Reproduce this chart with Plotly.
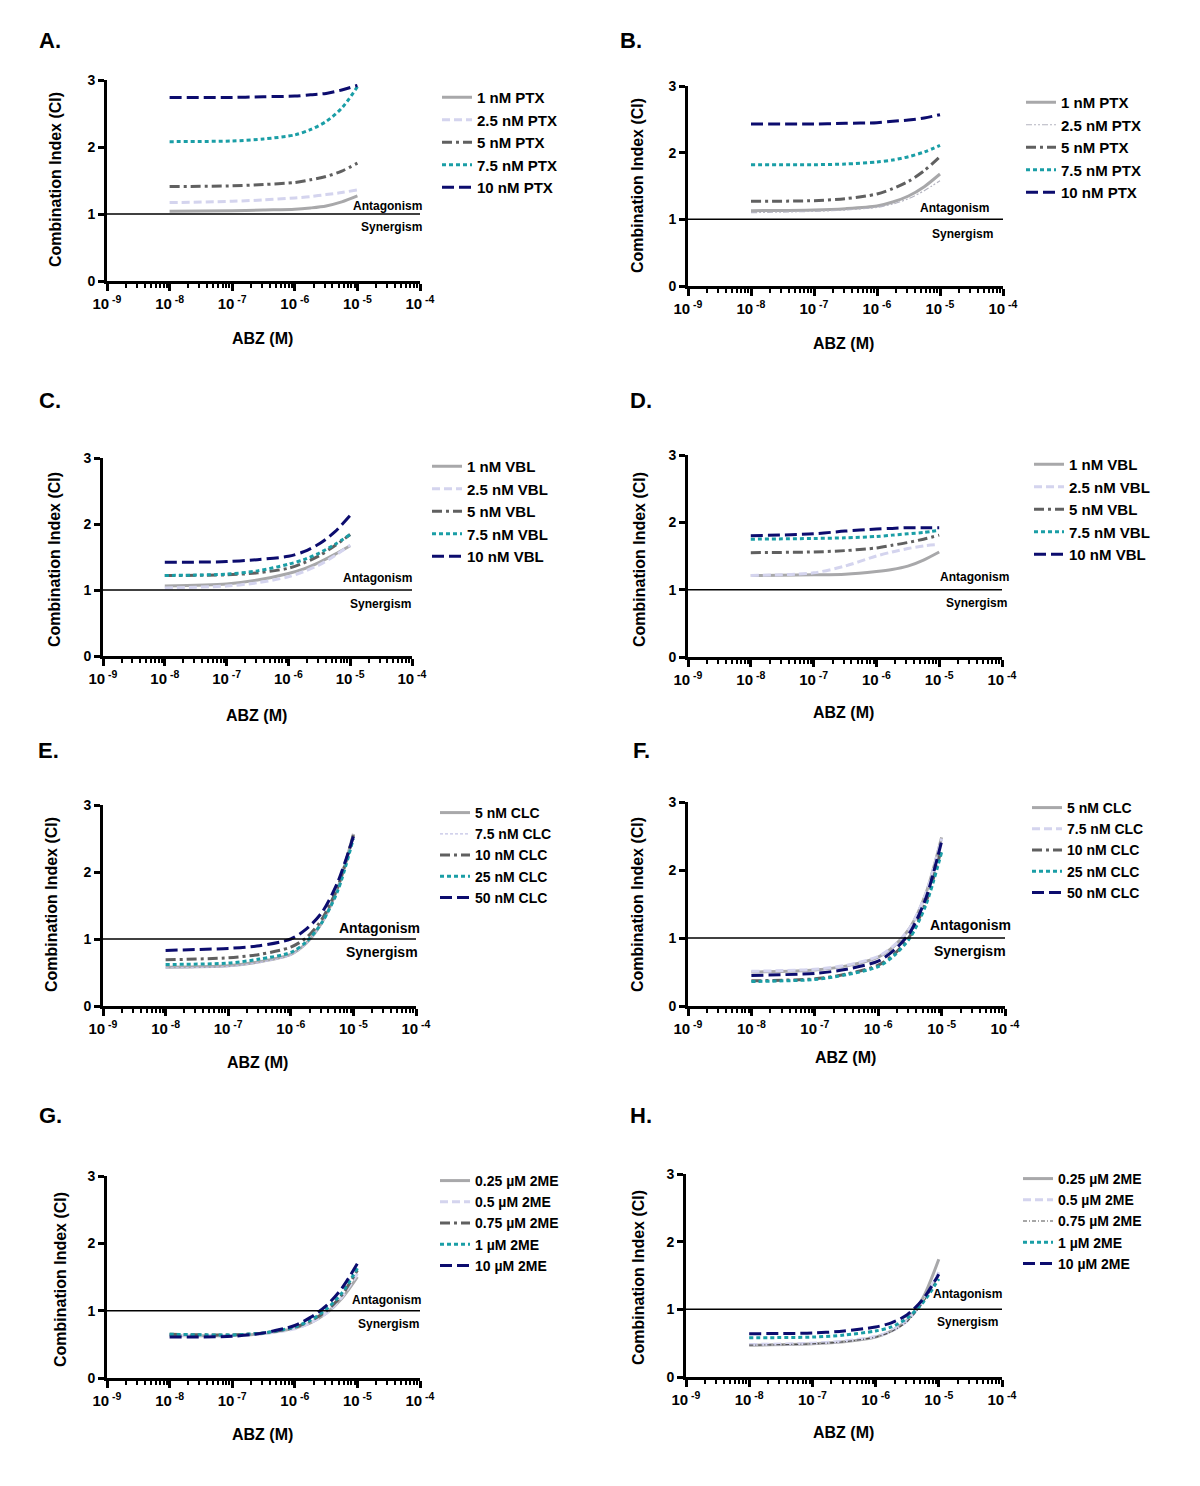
import plotly.graph_objects as go

# ---------------- data ----------------
log_abz = [-8, -7, -6.5, -6, -5.75, -5.5, -5.25, -5]
abz_M = [10 ** v for v in log_abz]

labels_A = ["1 nM PTX", "2.5 nM PTX", "5 nM PTX", "7.5 nM PTX", "10 nM PTX"]
ci_A = [
    [1.04, 1.05, 1.06, 1.07, 1.09, 1.12, 1.18, 1.27],
    [1.17, 1.19, 1.21, 1.24, 1.26, 1.29, 1.32, 1.36],
    [1.41, 1.42, 1.44, 1.47, 1.51, 1.56, 1.64, 1.76],
    [2.08, 2.09, 2.12, 2.18, 2.26, 2.38, 2.58, 2.90],
    [2.74, 2.74, 2.75, 2.76, 2.78, 2.80, 2.85, 2.92],
]
labels_B = labels_A
ci_B = [
    [1.13, 1.14, 1.16, 1.20, 1.26, 1.35, 1.49, 1.68],
    [1.10, 1.12, 1.14, 1.18, 1.23, 1.31, 1.43, 1.58],
    [1.27, 1.28, 1.31, 1.38, 1.46, 1.57, 1.73, 1.94],
    [1.82, 1.82, 1.83, 1.86, 1.89, 1.94, 2.01, 2.11],
    [2.43, 2.43, 2.44, 2.45, 2.47, 2.49, 2.52, 2.57],
]
labels_C = ["1 nM VBL", "2.5 nM VBL", "5 nM VBL", "7.5 nM VBL", "10 nM VBL"]
ci_C = [
    [1.06, 1.09, 1.15, 1.25, 1.32, 1.42, 1.54, 1.67],
    [1.03, 1.06, 1.11, 1.20, 1.28, 1.38, 1.52, 1.68],
    [1.22, 1.23, 1.26, 1.33, 1.41, 1.52, 1.67, 1.84],
    [1.22, 1.24, 1.29, 1.39, 1.46, 1.56, 1.69, 1.84],
    [1.42, 1.43, 1.46, 1.51, 1.58, 1.70, 1.88, 2.13],
]
labels_D = labels_C
ci_D = [
    [1.21, 1.22, 1.23, 1.27, 1.30, 1.35, 1.44, 1.56],
    [1.21, 1.25, 1.35, 1.50, 1.56, 1.61, 1.65, 1.67],
    [1.55, 1.56, 1.58, 1.62, 1.66, 1.70, 1.75, 1.81],
    [1.75, 1.76, 1.77, 1.79, 1.81, 1.83, 1.85, 1.88],
    [1.80, 1.83, 1.87, 1.90, 1.91, 1.92, 1.92, 1.92],
]
labels_E = ["5 nM CLC", "7.5 nM CLC", "10 nM CLC", "25 nM CLC", "50 nM CLC"]
ci_E = [
    [0.58, 0.60, 0.66, 0.77, 0.94, 1.25, 1.76, 2.57],
    [0.57, 0.59, 0.65, 0.76, 0.93, 1.24, 1.75, 2.56],
    [0.69, 0.72, 0.77, 0.88, 1.02, 1.30, 1.78, 2.55],
    [0.62, 0.64, 0.70, 0.80, 0.96, 1.25, 1.72, 2.50],
    [0.83, 0.86, 0.90, 1.00, 1.15, 1.40, 1.85, 2.53],
]
labels_F = labels_E
ci_F = [
    [0.50, 0.53, 0.59, 0.72, 0.88, 1.15, 1.65, 2.48],
    [0.51, 0.54, 0.60, 0.73, 0.89, 1.15, 1.65, 2.46],
    [0.37, 0.40, 0.47, 0.60, 0.76, 1.03, 1.52, 2.32],
    [0.36, 0.39, 0.46, 0.58, 0.74, 1.00, 1.48, 2.26],
    [0.45, 0.48, 0.54, 0.66, 0.82, 1.08, 1.58, 2.42],
]
labels_G = ["0.25 µM 2ME", "0.5 µM 2ME", "0.75 µM 2ME", "1 µM 2ME", "10 µM 2ME"]
ci_G = [
    [0.63, 0.63, 0.66, 0.74, 0.82, 0.96, 1.18, 1.50],
    [0.64, 0.63, 0.66, 0.73, 0.82, 0.96, 1.20, 1.55],
    [0.65, 0.64, 0.67, 0.75, 0.85, 0.99, 1.23, 1.60],
    [0.65, 0.64, 0.67, 0.76, 0.86, 1.02, 1.26, 1.63],
    [0.61, 0.62, 0.67, 0.78, 0.90, 1.07, 1.33, 1.70],
]
labels_H = labels_G
ci_H = [
    [0.47, 0.49, 0.52, 0.59, 0.68, 0.84, 1.17, 1.74],
    [0.48, 0.50, 0.53, 0.60, 0.68, 0.83, 1.12, 1.55],
    [0.47, 0.49, 0.52, 0.59, 0.67, 0.82, 1.10, 1.50],
    [0.58, 0.59, 0.62, 0.68, 0.74, 0.87, 1.10, 1.45],
    [0.64, 0.65, 0.68, 0.74, 0.80, 0.92, 1.15, 1.52],
]

x_tick_vals = [1e-9, 1e-8, 1e-7, 1e-6, 1e-5, 1e-4]
x_tick_text = ["10<sup> -9</sup>", "10<sup> -8</sup>", "10<sup> -7</sup>",
               "10<sup> -6</sup>", "10<sup> -5</sup>", "10<sup> -4</sup>"]
y_tick_vals = [0, 1, 2, 3]

# ---------------- styles & layout geometry ----------------
PAGE_OFF = 8                       # default body margin of the html page
W, H = 1200 - PAGE_OFF, 1486 - PAGE_OFF
FONT = "Liberation Sans, Arial, sans-serif"

base_styles = [
    dict(color="#a8a8aa", width=3, dash="solid"),
    dict(color="#d4d4ee", width=3, dash="8px,4px"),
    dict(color="#606060", width=3, dash="10px,4px,3px,4px"),
    dict(color="#1a9ea6", width=3, dash="4px,3px"),
    dict(color="#0c0c6e", width=3, dash="12px,5px"),
]
special = {
    ("B", 1): dict(color="#b4b4c0", width=1.2, dash="6px,2px,2px,2px,2px,2px"),
    ("E", 1): dict(color="#c4c4e6", width=1.2, dash="3px,2px"),
    ("H", 2): dict(color="#505050", width=1.2, dash="4px,2px,1px,2px"),
}

# name, labels, data, plot box (x0, x1, y_top, y_bottom),
# letter pos, ytitle pos, xtitle pos, legend (text x, first row y),
# antagonism (right x, y), synergism (right x, y), label size, legend font size
panels = [
    ("A", labels_A, ci_A, (107, 420, 80, 281), (50, 40), (55, 180), (262, 338), (478, 98), (424, 206), (424, 227), 12, 15),
    ("B", labels_B, ci_B, (688, 1003, 86, 286), (631, 40), (638, 186), (843, 343), (1062, 103), (991, 208), (995, 234), 12, 15),
    ("C", labels_C, ci_C, (103, 412, 458, 656), (50, 400), (55, 560), (256, 716), (468, 467), (414, 578), (413, 604), 12, 15),
    ("D", labels_D, ci_D, (688, 1002, 455, 657), (641, 400), (640, 560), (843, 712), (1070, 465), (1011, 577), (1009, 603), 12, 15),
    ("E", labels_E, ci_E, (103, 416, 805, 1006), (48, 750), (52, 905), (257, 1062), (476, 814), (422, 928), (420, 952), 14, 14),
    ("F", labels_F, ci_F, (688, 1005, 802, 1006), (641, 750), (638, 905), (845, 1057), (1068, 809), (1013, 925), (1008, 951), 14, 14),
    ("G", labels_G, ci_G, (107, 420, 1176, 1378), (50, 1115), (60, 1280), (262, 1434), (476, 1182), (423, 1300), (421, 1324), 12, 14),
    ("H", labels_H, ci_H, (686, 1002, 1174, 1377), (641, 1115), (638, 1278), (843, 1432), (1059, 1180), (1004, 1294), (1000, 1322), 12, 14),
]


def fx(px):
    return (px - PAGE_OFF) / W


def fy(py):
    return 1 - (py - PAGE_OFF) / H


minor_vals = [m * 10 ** e for e in range(-9, -4) for m in range(2, 10)]

fig = go.Figure()
layout = dict(
    width=W, height=H, autosize=False,
    margin=dict(l=0, r=0, t=0, b=0, pad=0, autoexpand=False),
    paper_bgcolor="white", plot_bgcolor="white",
    font=dict(family=FONT, color="black"),
    showlegend=True,
)
annotations = []
shapes = []

for i, (name, labels, data, box, letter, ytit, xtit, leg, ant, syn, lsize, lgsize) in enumerate(panels):
    n = i + 1
    xa = "x" if n == 1 else f"x{n}"
    ya = "y" if n == 1 else f"y{n}"
    lg = "legend" if n == 1 else f"legend{n}"
    x0, x1, yt, yb = box

    for k, (lab, vals) in enumerate(zip(labels, data)):
        st = special.get((name, k), base_styles[k])
        fig.add_trace(go.Scatter(
            x=abz_M, y=vals, mode="lines", name=lab,
            line=dict(color=st["color"], width=st["width"], dash=st["dash"],
                      shape="spline", smoothing=0.8),
            xaxis=xa, yaxis=ya, legend=lg, showlegend=True,
        ))

    xkey = "xaxis" if n == 1 else f"xaxis{n}"
    ykey = "yaxis" if n == 1 else f"yaxis{n}"
    layout[xkey] = dict(
        type="log", range=[-9, -4], domain=[fx(x0), fx(x1)], anchor=ya,
        showline=True, linecolor="black", linewidth=3, mirror=False,
        showgrid=False, zeroline=False, automargin=False,
        tickmode="array", tickvals=x_tick_vals, ticktext=x_tick_text,
        ticks="outside", ticklen=7, tickwidth=2.5, tickcolor="black",
        minor=dict(tickmode="array", tickvals=minor_vals, ticks="outside",
                   ticklen=4, tickwidth=2, tickcolor="black", showgrid=False),
        tickfont=dict(family=FONT, size=15, color="black", weight="bold"),
    )
    layout[ykey] = dict(
        range=[0, 3], domain=[fy(yb), fy(yt)], anchor=xa,
        showline=True, linecolor="black", linewidth=3,
        showgrid=False, zeroline=False, automargin=False,
        tickmode="array", tickvals=y_tick_vals,
        ticks="outside", ticklen=6, tickwidth=2.5, tickcolor="black",
        tickfont=dict(family=FONT, size=14, color="black", weight="bold"),
    )
    layout[lg] = dict(
        x=fx(leg[0] - 41), y=fy(leg[1] - 17), xanchor="left", yanchor="top",
        bgcolor="rgba(0,0,0,0)", borderwidth=0,
        font=dict(family=FONT, size=lgsize, color="black", weight="bold"),
        itemwidth=30, tracegroupgap=0,
    )

    shapes.append(dict(type="line", xref=f"{xa} domain", yref=ya,
                       x0=0, x1=1, y0=1, y1=1,
                       line=dict(color="black", width=1.5)))

    annotations += [
        dict(text=f"{name}.", x=fx(letter[0]), y=fy(letter[1]), xref="paper", yref="paper",
             showarrow=False, font=dict(family=FONT, size=22, color="black", weight="bold"),
             xanchor="center", yanchor="middle"),
        dict(text="Combination Index (CI)", x=fx(ytit[0]), y=fy(ytit[1]),
             xref="paper", yref="paper", showarrow=False, textangle=-90,
             font=dict(family=FONT, size=16, color="black", weight="bold"),
             xanchor="center", yanchor="middle"),
        dict(text="ABZ (M)", x=fx(xtit[0]), y=fy(xtit[1]), xref="paper", yref="paper",
             showarrow=False, font=dict(family=FONT, size=16, color="black", weight="bold"),
             xanchor="center", yanchor="middle"),
        dict(text="Antagonism", x=fx(ant[0]), y=fy(ant[1]), xref="paper", yref="paper",
             showarrow=False, font=dict(family=FONT, size=lsize, color="black", weight="bold"),
             xanchor="right", yanchor="middle"),
        dict(text="Synergism", x=fx(syn[0]), y=fy(syn[1]), xref="paper", yref="paper",
             showarrow=False, font=dict(family=FONT, size=lsize, color="black", weight="bold"),
             xanchor="right", yanchor="middle"),
    ]

layout["annotations"] = annotations
layout["shapes"] = shapes
fig.update_layout(**layout)
fig.write_html("out.html")
